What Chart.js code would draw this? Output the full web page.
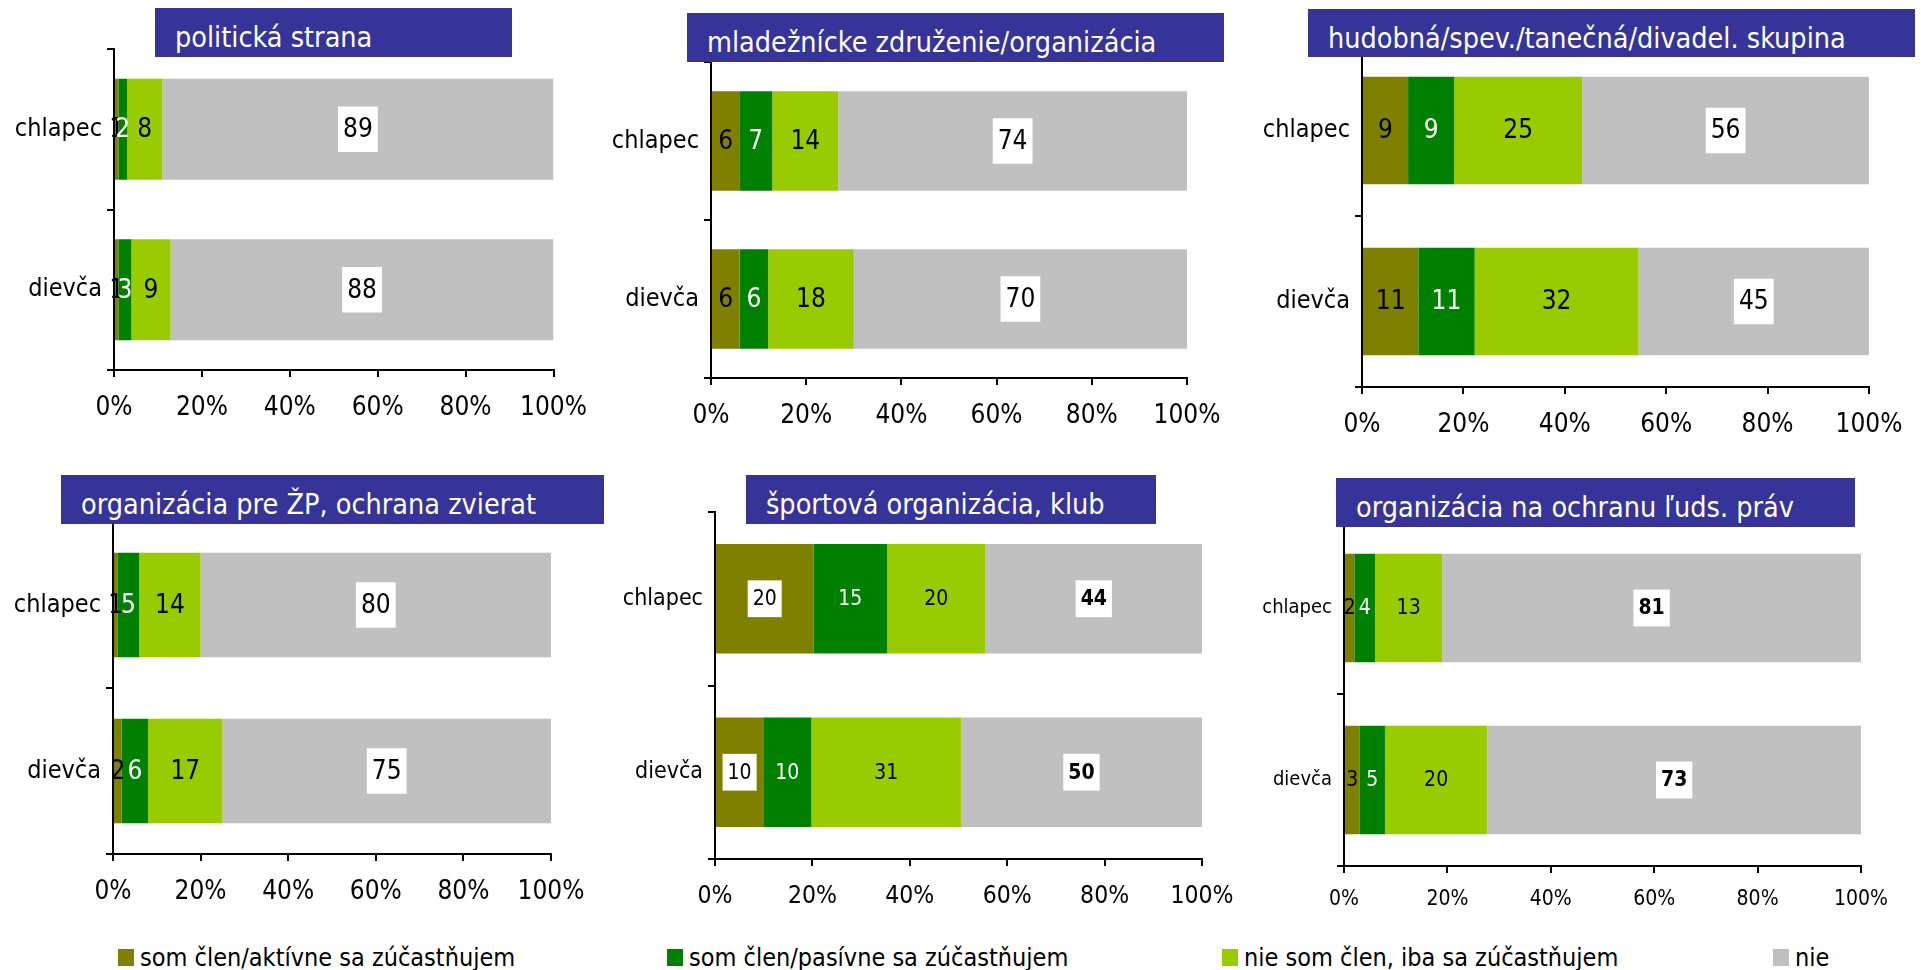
<!DOCTYPE html>
<html>
<head>
<meta charset="utf-8">
<script src="https://cdn.jsdelivr.net/npm/chart.js@4.4.1/dist/chart.umd.min.js"></script>
<style>
    html, body { margin: 0; padding: 0; background: #fff; overflow: hidden; }
    #page { position: relative; width: 1921px; height: 970px; }
    .panel { position: absolute; }
    .title {
        position: absolute; box-sizing: border-box; background: #363399; color: #fff;
        font-family: 'DejaVu Sans Condensed', 'DejaVu Sans', sans-serif; font-size: 28.5px;
        white-space: nowrap; line-height: 37px; padding-top: 11px;
    }
    .legend-item {
        position: absolute; top: 943px; height: 28px; display: flex; align-items: center;
        font-family: 'DejaVu Sans Condensed', 'DejaVu Sans', sans-serif; font-size: 25px; color: #000;
        white-space: nowrap;
    }
    .legend-item span.sw { display: inline-block; width: 16px; height: 17px; margin-right: 6px; }
</style>
</head>
<body>
<div id="page"></div>
<script>
    const FONT = "'DejaVu Sans Condensed', 'DejaVu Sans', sans-serif";

    // Data
    const categories = ['chlapec', 'dievča'];
    const seriesNames = [
        'som člen/aktívne sa zúčastňujem',
        'som člen/pasívne sa zúčastňujem',
        'nie som člen, iba sa zúčastňujem',
        'nie'
    ];
    const xTickValues = [0, 20, 40, 60, 80, 100];

    const politickaChlapec = [1, 2, 8, 89];
    const politickaDievca = [1, 3, 9, 88];
    const mladeznickeChlapec = [6, 7, 14, 74];
    const mladeznickeDievca = [6, 6, 18, 70];
    const hudobnaChlapec = [9, 9, 25, 56];
    const hudobnaDievca = [11, 11, 32, 45];
    const zpChlapec = [1, 5, 14, 80];
    const zpDievca = [2, 6, 17, 75];
    const sportChlapec = [20, 15, 20, 44];
    const sportDievca = [10, 10, 31, 50];
    const pravaChlapec = [2, 4, 13, 81];
    const pravaDievca = [3, 5, 20, 73];

    const titles = [
        'politická strana',
        'mladežnícke združenie/organizácia',
        'hudobná/spev./tanečná/divadel. skupina',
        'organizácia pre ŽP, ochrana zvierat',
        'športová organizácia, klub',
        'organizácia na ochranu ľuds. práv'
    ];

    // Styles
    const seriesColors = ['#808000', '#008000', '#99CC00', '#C0C0C0'];
    const labelColors = ['#000', '#fff', '#000', '#000'];

    // Layout of the six panels: plot = [left, top, right, bottom], box = [left, top, width, height]
    const panels = [
        { values: [politickaChlapec, politickaDievca], plot: [113.5, 49, 553, 370], box: [155, 8, 357, 49],
          catSize: 25, tickSize: 26, labelSize: 26, tickPad: 16, boldLast: false, boxFirst: false },
        { values: [mladeznickeChlapec, mladeznickeDievca], plot: [711, 62, 1187, 378], box: [687, 13, 537, 49],
          catSize: 25, tickSize: 26, labelSize: 26, tickPad: 16, boldLast: false, boxFirst: false },
        { values: [hudobnaChlapec, hudobnaDievca], plot: [1362, 45, 1869, 387], box: [1308, 9, 607, 48],
          catSize: 25, tickSize: 26, labelSize: 26, tickPad: 16, boldLast: false, boxFirst: false },
        { values: [zpChlapec, zpDievca], plot: [113, 522, 551, 854], box: [61, 475, 543, 49],
          catSize: 25, tickSize: 26, labelSize: 26, tickPad: 16, boldLast: false, boxFirst: false },
        { values: [sportChlapec, sportDievca], plot: [715, 512, 1202, 859], box: [746, 475, 410, 49],
          catSize: 23, tickSize: 24.5, labelSize: 21, tickPad: 16, boldLast: true, boxFirst: true },
        { values: [pravaChlapec, pravaDievca], plot: [1344, 522, 1861, 866], box: [1336, 478, 519, 49],
          catSize: 20, tickSize: 21, labelSize: 21, tickPad: 14, boldLast: true, boxFirst: false }
    ];
    const legendX = [118, 667, 1222, 1773];

    const Y_AXIS_W = 110, PAD_TOP = 30, PAD_RIGHT = 60, X_AXIS_H = 60;

    Chart.defaults.font.family = FONT;
    Chart.defaults.color = '#000';

    // Value labels drawn in the middle of each segment
    const segmentLabels = {
        id: 'segmentLabels',
        afterDatasetsDraw(chart, args, opts) {
            const ctx = chart.ctx;
            chart.data.datasets.forEach((ds, i) => {
                const meta = chart.getDatasetMeta(i);
                const bold = opts.boldLast && i === 3;
                const withBox = i === 3 || (opts.boxFirst && i === 0);
                meta.data.forEach((bar, j) => {
                    const txt = String(ds.raw[j]);
                    const x = (bar.x + bar.base) / 2;
                    const y = bar.y;
                    ctx.save();
                    ctx.font = (bold ? 'bold ' : '') + opts.size + 'px ' + FONT;
                    ctx.textAlign = 'center';
                    ctx.textBaseline = 'middle';
                    if (withBox) {
                        const w = ctx.measureText(txt).width + 10;
                        const h = opts.size * 1.75;
                        ctx.fillStyle = '#fff';
                        ctx.fillRect(x - w / 2, y - h / 2, w, h);
                    }
                    ctx.fillStyle = withBox ? '#000' : labelColors[i];
                    ctx.fillText(txt, x, y + 1);
                    ctx.restore();
                });
            });
        }
    };

    const page = document.getElementById('page');

    panels.forEach((p, k) => {
        const [pl, pt, pr, pb] = p.plot;
        const div = document.createElement('div');
        div.className = 'panel';
        div.style.left = (pl - Y_AXIS_W) + 'px';
        div.style.top = (pt - PAD_TOP) + 'px';
        div.style.width = (pr - pl + Y_AXIS_W + PAD_RIGHT) + 'px';
        div.style.height = (pb - pt + PAD_TOP + X_AXIS_H) + 'px';
        const canvas = document.createElement('canvas');
        div.appendChild(canvas);
        page.appendChild(div);

        const sums = p.values.map(v => v.reduce((a, b) => a + b, 0));
        const datasets = seriesNames.map((name, i) => ({
            label: name,
            raw: p.values.map(v => v[i]),
            data: p.values.map((v, j) => v[i] / sums[j] * 100),
            backgroundColor: seriesColors[i],
            borderWidth: 0,
            barPercentage: 0.63,
            categoryPercentage: 1
        }));

        new Chart(canvas, {
            type: 'bar',
            data: { labels: categories, datasets },
            plugins: [segmentLabels],
            options: {
                indexAxis: 'y',
                responsive: true,
                maintainAspectRatio: false,
                animation: false,
                layout: { padding: { left: 0, top: PAD_TOP, right: PAD_RIGHT, bottom: 0 } },
                plugins: {
                    legend: { display: false },
                    tooltip: { enabled: false },
                    segmentLabels: { size: p.labelSize, boldLast: p.boldLast, boxFirst: p.boxFirst }
                },
                scales: {
                    x: {
                        stacked: true, min: 0, max: 100,
                        afterBuildTicks: s => { s.ticks = xTickValues.map(v => ({ value: v })); },
                        afterFit: s => { s.height = X_AXIS_H; },
                        ticks: { callback: v => v + '%', font: { size: p.tickSize }, padding: p.tickPad, color: '#000' },
                        grid: { drawOnChartArea: false, drawTicks: true, tickLength: 7, color: '#000', lineWidth: 2 },
                        border: { display: true, color: '#000', width: 2 }
                    },
                    y: {
                        stacked: true,
                        afterFit: s => { s.width = Y_AXIS_W; },
                        ticks: { font: { size: p.catSize }, padding: 5, color: '#000' },
                        grid: { drawOnChartArea: false, drawTicks: true, tickLength: 7, color: '#000', lineWidth: 2, offset: true },
                        border: { display: true, color: '#000', width: 2 }
                    }
                }
            }
        });

        const t = document.createElement('div');
        t.className = 'title';
        t.style.left = p.box[0] + 'px';
        t.style.top = p.box[1] + 'px';
        t.style.width = p.box[2] + 'px';
        t.style.height = p.box[3] + 'px';
        t.style.paddingLeft = '20px';
        t.textContent = titles[k];
        page.appendChild(t);
    });

    // Shared legend
    seriesNames.forEach((name, i) => {
        const item = document.createElement('div');
        item.className = 'legend-item';
        item.style.left = legendX[i] + 'px';
        item.innerHTML = '<span class="sw" style="background:' + seriesColors[i] + '"></span>';
        item.appendChild(document.createTextNode(name));
        page.appendChild(item);
    });
</script>
</body>
</html>
